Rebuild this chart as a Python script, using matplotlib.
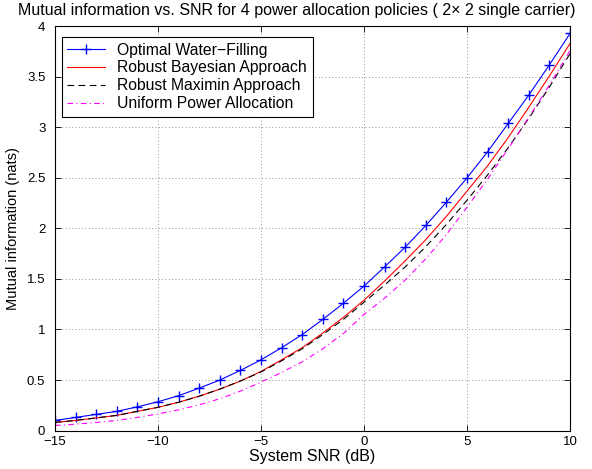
import matplotlib
matplotlib.use('Agg')
import matplotlib.pyplot as plt

plt.rcParams['font.family'] = ['Liberation Sans', 'DejaVu Sans']

snr_db = [-15, -14, -13, -12, -11, -10, -9, -8, -7, -6, -5, -4, -3,
          -2, -1, 0, 1, 2, 3, 4, 5, 6, 7, 8, 9, 10]

# mutual information (nats)
water_filling = [0.10, 0.13, 0.16, 0.19, 0.235, 0.285, 0.345, 0.42, 0.50, 0.595,
                 0.70, 0.82, 0.95, 1.10, 1.26, 1.43, 1.62, 1.815, 2.03, 2.26,
                 2.50, 2.76, 3.04, 3.32, 3.62, 3.93]
bayesian = [0.08, 0.10, 0.125, 0.15, 0.19, 0.23, 0.28, 0.34, 0.41, 0.49,
            0.585, 0.70, 0.82, 0.965, 1.12, 1.29, 1.48, 1.68, 1.89, 2.12,
            2.37, 2.62, 2.90, 3.20, 3.51, 3.83]
maximin = [0.08, 0.10, 0.125, 0.15, 0.19, 0.23, 0.28, 0.34, 0.41, 0.49,
           0.58, 0.69, 0.81, 0.95, 1.10, 1.27, 1.44, 1.62, 1.82, 2.04,
           2.28, 2.53, 2.80, 3.09, 3.40, 3.73]
uniform = [0.05, 0.063, 0.08, 0.10, 0.13, 0.165, 0.205, 0.255, 0.315, 0.39,
           0.48, 0.575, 0.68, 0.81, 0.96, 1.15, 1.31, 1.49, 1.70, 1.94,
           2.21, 2.49, 2.79, 3.10, 3.42, 3.76]

xticks = [-15, -10, -5, 0, 5, 10]
yticks = [0, 0.5, 1, 1.5, 2, 2.5, 3, 3.5, 4]
ytick_labels = ['0', '0.5', '1', '1.5', '2', '2.5', '3', '3.5', '4']

fig = plt.figure(figsize=(5.92, 4.69), dpi=100)
ax = fig.add_axes([0.093, 0.082, 0.870, 0.862])

ax.plot(snr_db, water_filling, '-+', color='blue', lw=0.8, ms=7, mew=1.0,
        label='Optimal Water\u2212Filling')
ax.plot(snr_db, bayesian, '-', color='red', lw=0.8,
        label='Robust Bayesian Approach')
ax.plot(snr_db, maximin, '--', color='black', lw=0.8, dashes=(6, 4),
        label='Robust Maximin Approach')
ax.plot(snr_db, uniform, '-.', color='magenta', lw=0.8, dashes=(5, 3, 1, 3),
        label='Uniform Power Allocation')

ax.set_xlim(-15, 10)
ax.set_ylim(0, 4)
ax.set_xticks(xticks)
ax.set_yticks(yticks)
ax.set_yticklabels(ytick_labels)
ax.tick_params(direction='in', top=True, right=True, labelsize=9.5, length=4, width=0.6)
ax.tick_params(axis='x', pad=4)
ax.tick_params(axis='y', pad=7)
ax.grid(True, linestyle=(0, (1, 3)), color='0.45', lw=0.6)
for s in ax.spines.values():
    s.set_linewidth(0.8)

ax.set_xlabel('System SNR (dB)', fontsize=11.5, labelpad=1)
ax.set_ylabel('Mutual information (nats)', fontsize=10.5, labelpad=5)
fig.text(0.502, 0.968,
         'Mutual information vs. SNR for 4 power allocation policies ( 2\u00d7 2 single carrier)',
         fontsize=11.5, ha='center', va='baseline')

leg = ax.legend(loc='upper left', bbox_to_anchor=(0.013, 0.973), fontsize=11.3,
                fancybox=False, edgecolor='black', framealpha=1, borderaxespad=0,
                handlelength=2.4, borderpad=0.35, labelspacing=0.18, handletextpad=0.8)
leg.get_frame().set_linewidth(0.8)

fig.savefig('out.png', dpi=100)
